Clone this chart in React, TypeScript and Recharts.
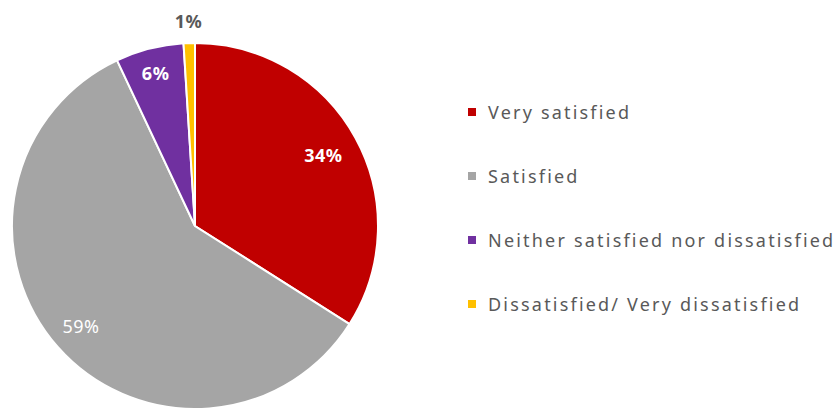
import React from "react";
import { PieChart, Pie, Cell } from "recharts";

const categories = [
  "Very satisfied",
  "Satisfied",
  "Neither satisfied nor dissatisfied",
  "Dissatisfied/ Very dissatisfied",
];
const values = [34, 59, 6, 1];
const colors = ["#C00000", "#A5A5A5", "#7030A0", "#FFC000"];
const labelWeights = [700, 400, 700, 700];

const data = categories.map((name, i) => ({ name, value: values[i] }));

const RAD = Math.PI / 180;

const renderLabel = (props: any) => {
  const { cx, cy, midAngle, outerRadius, percent, index } = props;
  const outside = index === 3;
  const ratios = [0.8, 0.83, 0.865, 1.12];
  const r = outerRadius * ratios[index];
  const x = cx + r * Math.cos(-midAngle * RAD);
  const y = cy + r * Math.sin(-midAngle * RAD);
  return (
    <text
      x={x}
      y={y}
      textAnchor="middle"
      dominantBaseline="central"
      fill={outside ? "#595959" : "#FFFFFF"}
      fontFamily="'Noto Sans', sans-serif"
      fontSize={18}
      letterSpacing={0.5}
      fontWeight={labelWeights[index]}
    >
      {`${Math.round(percent * 100)}%`}
    </text>
  );
};

export default function App() {
  return (
    <div
      style={{
        position: "absolute",
        left: 0,
        top: 0,
        width: 838,
        height: 409,
        background: "#fff",
      }}
    >
      <PieChart width={838} height={409} margin={{ top: 0, right: 0, bottom: 0, left: 0 }}>
        <Pie
          data={data}
          dataKey="value"
          nameKey="name"
          cx={195}
          cy={226}
          outerRadius={183}
          startAngle={90}
          endAngle={-270}
          stroke="#FFFFFF"
          strokeWidth={2}
          label={renderLabel}
          labelLine={false}
          isAnimationActive={false}
        >
          {data.map((d, i) => (
            <Cell key={d.name} fill={colors[i]} />
          ))}
        </Pie>
      </PieChart>
      {categories.map((name, i) => (
        <div
          key={name}
          style={{
            position: "absolute",
            left: 468,
            top: 112 + i * 64 - 12,
            height: 24,
            display: "flex",
            alignItems: "center",
            fontFamily: "'Noto Sans', sans-serif",
            fontSize: 18,
            color: "#595959",
            whiteSpace: "nowrap",
            letterSpacing: 2.2,
          }}
        >
          <span
            style={{
              display: "inline-block",
              width: 8,
              height: 8,
              background: colors[i],
              marginRight: 12,
            }}
          />
          {name}
        </div>
      ))}
    </div>
  );
}
